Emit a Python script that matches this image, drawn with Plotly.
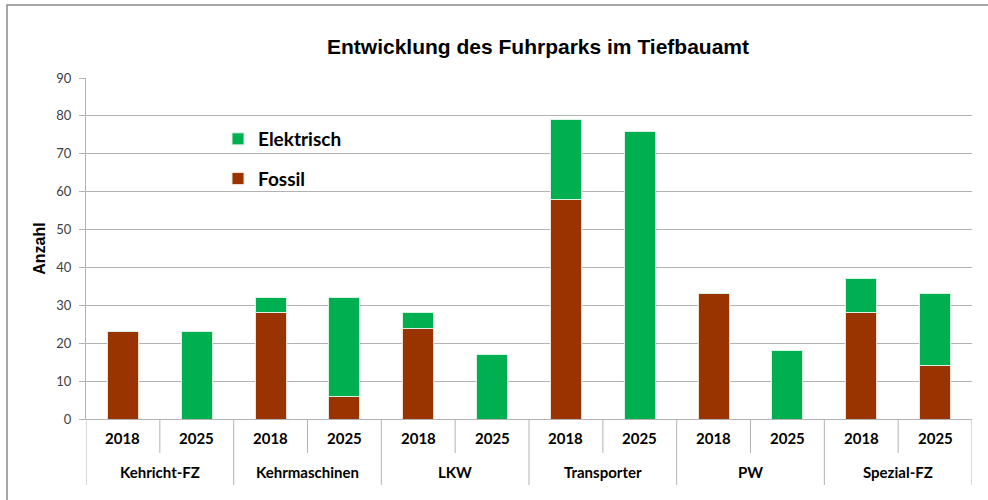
import plotly.graph_objects as go

group_names = ["Kehricht-FZ", "Kehrmaschinen", "LKW", "Transporter", "PW", "Spezial-FZ"]
year_labels = ["2018", "2025"]
groups = [g for g in group_names for _ in year_labels]
years = year_labels * len(group_names)
fossil = [23, 0, 28, 6, 24, 0, 58, 0, 33, 0, 28, 14]
elektrisch = [0, 23, 4, 26, 4, 17, 21, 76, 0, 18, 9, 19]

GREEN = "#00B050"
BROWN = "#993300"
GRID = "#b3b3b3"
LABEL_FONT = "Lato, Open Sans"

xcats = [f"{g} {y}" for g, y in zip(groups, years)]

fig = go.Figure()
fig.add_trace(go.Bar(x=xcats, y=fossil, name="Fossil", legendgroup="f", legendrank=2,
                     marker=dict(color=BROWN, line=dict(color="#f2e0d6", width=1))))
fig.add_trace(go.Bar(x=xcats, y=elektrisch, name="Elektrisch", legendgroup="e", legendrank=1,
                     marker=dict(color=GREEN, line=dict(color="#d8f3e2", width=1))))

W, H = 988, 500
L, R, T = 86, 16, 78
B = H - 419
pw, ph = W - L - R, H - T - B

def px_x(s):
    return (s - L) / pw

def px_y(s):
    return (H - B - s) / ph

shapes = [
    dict(type="rect", xref="paper", yref="paper", x0=px_x(7), x1=px_x(1000),
         y0=px_y(510), y1=px_y(5), line=dict(color="#8a8a8a", width=1.5),
         fillcolor="rgba(0,0,0,0)", layer="below"),
    dict(type="rect", xref="paper", yref="paper", x0=px_x(218), x1=px_x(348),
         y0=px_y(196), y1=px_y(118), line=dict(width=0), fillcolor="white", layer="between"),
]
annotations = []
n = len(xcats)
for i in range(n + 1):
    bottom = 485 if i % 2 == 0 else 453
    shapes.append(dict(type="line", xref="x", yref="paper", x0=i - 0.5, x1=i - 0.5,
                       y0=px_y(419), y1=px_y(bottom), line=dict(color=GRID, width=1)))
for i, y in enumerate(years):
    annotations.append(dict(x=i, y=px_y(438), xref="x", yref="paper", text=f"<b>{y}</b>",
                            yanchor="middle", xanchor="center", showarrow=False,
                            font=dict(family=LABEL_FONT, size=15, color="#000000")))
for j, g in enumerate(group_names):
    annotations.append(dict(x=2 * j + 0.5, y=px_y(472), xref="x", yref="paper", text=f"<b>{g}</b>",
                            yanchor="middle", xanchor="center", showarrow=False,
                            font=dict(family=LABEL_FONT, size=15, color="#000000")))

fig.update_layout(
    width=W, height=H,
    barmode="stack", bargap=0.58,
    paper_bgcolor="white", plot_bgcolor="white",
    margin=dict(l=L, r=R, t=T, b=B, autoexpand=False),
    title=dict(text="<b>Entwicklung des Fuhrparks im Tiefbauamt</b>", x=px_x(538), xref="paper", xanchor="center",
               y=1 - 47 / H, yanchor="middle",
               font=dict(family="Liberation Sans, Arial", size=21, color="#000000")),
    legend=dict(traceorder="grouped", x=px_x(218), y=px_y(120), xanchor="left", yanchor="top",
                bgcolor="rgba(0,0,0,0)", font=dict(family=LABEL_FONT, size=19, color="#000000", weight="bold"),
                tracegroupgap=12, itemwidth=30),
    showlegend=True,
    shapes=shapes,
    annotations=annotations,
)

fig.update_yaxes(range=[0, 90], dtick=10, showgrid=True, gridcolor=GRID, gridwidth=1,
                 showline=True, linecolor=GRID, linewidth=1, ticks="outside", ticklen=6, tickcolor=GRID,
                 ticklabelstandoff=5,
                 tickfont=dict(family=LABEL_FONT, size=13, color="#404040"),
                 title=dict(text="<b>Anzahl</b>", font=dict(family="Liberation Sans, Arial", size=16, color="#000000"), standoff=6),
                 zeroline=False, automargin=False)

fig.update_xaxes(type="category", range=[-0.5, n - 0.5], showticklabels=False, ticks="",
                 showline=True, linecolor=GRID, linewidth=1, showgrid=False, automargin=False)

fig.write_html("out.html", config={"displayModeBar": False},
               post_script="document.body.style.margin='0';")
